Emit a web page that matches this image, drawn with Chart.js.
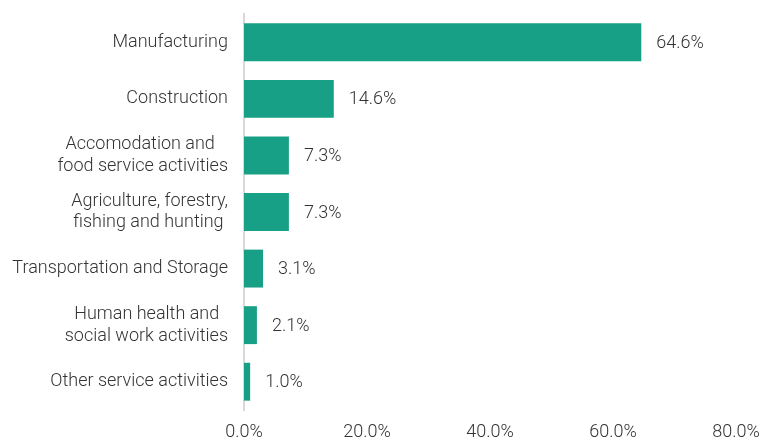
<!DOCTYPE html>
<html lang="en">
<head>
<meta charset="UTF-8">
<title>Share by sector</title>
<script src="https://cdn.jsdelivr.net/npm/chart.js@4.4.1/dist/chart.umd.min.js"></script>
<style>
	html, body { margin: 0; padding: 0; background: #fff; }
	#wrap { width: 761px; height: 440px; }
</style>
</head>
<body>
	<div id="wrap">
		<canvas id="sectorchart"></canvas>
	</div>

	<script>
		// sectors, top to bottom (trailing spaces keep the ragged right edge of wrapped labels)
		var sectors = [
			'Manufacturing',
			'Construction',
			['Accomodation and   ', 'food service activities'],
			['Agriculture, forestry,', 'fishing and hunting '],
			'Transportation and Storage',
			['Human health and  ', 'social work activities'],
			'Other service activities'
		];
		var shares = [64.6, 14.6, 7.3, 7.3, 3.1, 2.1, 1.0];
		var axisMax = 80;
		var axisStep = 20;

		var barColor = '#17a085';
		var textColor = '#333333';

		// writes the value to the right of each bar
		var valueLabels = {
			id: 'valueLabels',
			afterDatasetsDraw: function(chart) {
				var ctx = chart.ctx;
				var meta = chart.getDatasetMeta(0);
				ctx.save();
				ctx.font = '300 18px Roboto';
				ctx.fillStyle = textColor;
				ctx.textAlign = 'left';
				ctx.textBaseline = 'middle';
				meta.data.forEach(function(bar, i) {
					ctx.fillText(shares[i].toFixed(1) + '%', bar.x + 15, bar.y + 1);
				});
				ctx.restore();
			}
		};

		var ctx1 = document.getElementById('sectorchart').getContext('2d');
		var chart1 = new Chart(ctx1, {
			type : 'bar',
			data : {
				labels : sectors,
				datasets : [ {
					label : 'share',
					data : shares,
					backgroundColor : barColor,
					borderWidth : 0,
					barPercentage : 0.67,
					categoryPercentage : 1.0
				} ]
			},
			options : {
				indexAxis : 'y',
				responsive : true,
				maintainAspectRatio : false,
				animation : false,
				layout : { padding : { top : 14, left : 0, right : 0, bottom : 0 } },
				plugins : {
					legend : { display : false },
					tooltip : { enabled : false }
				},
				scales : {
					x : {
						min : 0,
						max : axisMax,
						grid : { display : false, drawTicks : false },
						border : { display : false },
						afterFit : function(scale) {
							scale.height = 30;
							scale.paddingLeft = 0;
							scale.paddingRight = 25;
						},
						ticks : {
							stepSize : axisStep,
							padding : 12,
							color : textColor,
							font : { family : 'Roboto', size : 18, weight : 300 },
							callback : function(v) { return v.toFixed(1) + '%'; }
						}
					},
					y : {
						grid : { display : false, drawTicks : false },
						border : { display : true, color : '#d9d9d9', width : 2 },
						afterFit : function(scale) {
							scale.width = 244;
							scale.paddingTop = 0;
							scale.paddingBottom = 0;
						},
						ticks : {
							padding : 16,
							color : textColor,
							font : { family : 'Roboto', size : 18, weight : 300, lineHeight : 1.22 }
						}
					}
				}
			},
			plugins : [ valueLabels ]
		});
	</script>
</body>
</html>
